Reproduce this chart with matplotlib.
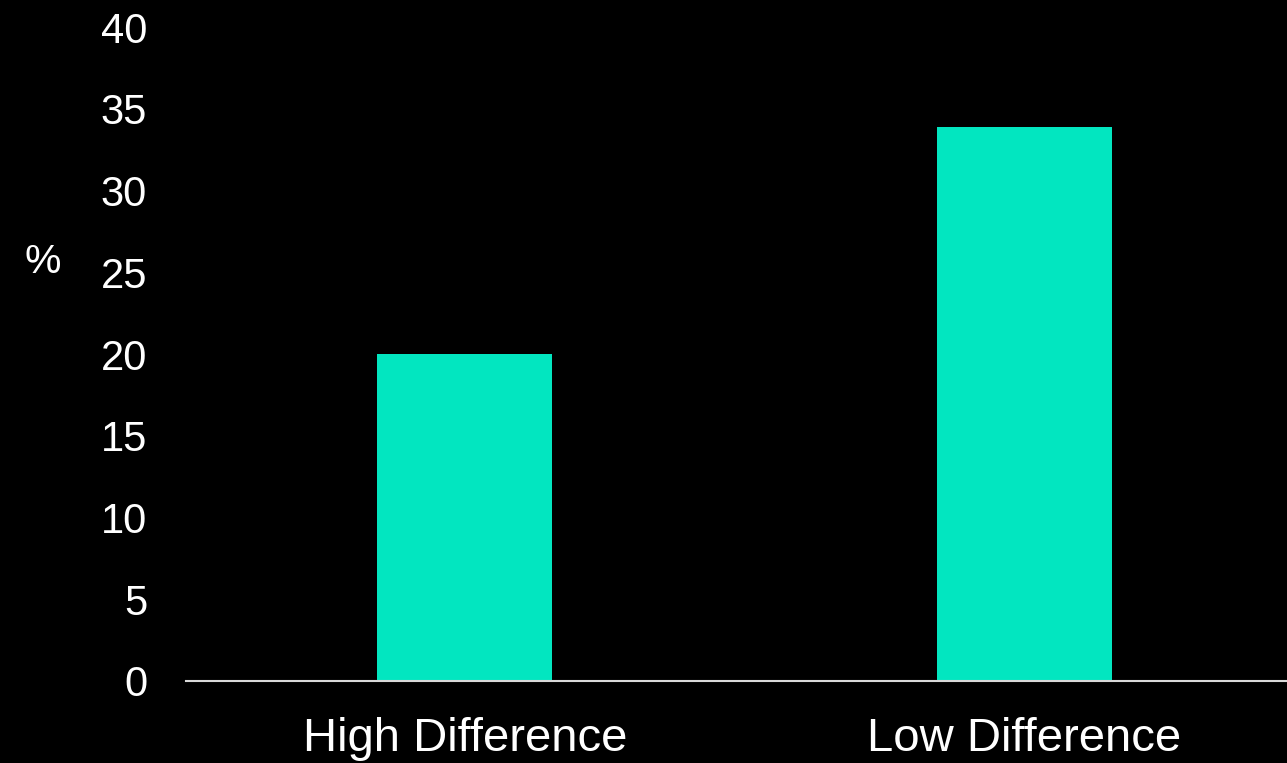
import matplotlib.pyplot as plt

# Share of respondents per group
categories = ["High Difference", "Low Difference"]
values = [20, 33.9]
yticks = [0, 5, 10, 15, 20, 25, 30, 35, 40]

plt.rcParams["font.family"] = ["Liberation Sans", "DejaVu Sans"]

fig = plt.figure(figsize=(12.87, 7.63), dpi=100, facecolor="black")
ax = fig.add_axes([0.1445, 0.1075, 0.8555, 0.857], facecolor="black")

ax.bar(range(len(categories)), values, width=0.313, color="#02E6C0")

ax.set_xlim(-0.4986, 1.47)
ax.set_ylim(0, 40)
ax.set_xticks(range(len(categories)))
ax.set_xticklabels(categories)
ax.set_yticks(yticks)

for side in ["top", "right", "left"]:
    ax.spines[side].set_visible(False)
ax.spines["bottom"].set_color("#d9d9d9")
ax.spines["bottom"].set_linewidth(1.5)

ax.tick_params(axis="y", length=0, pad=28, labelsize=30, colors="white")
ax.tick_params(axis="x", length=0, pad=26, labelsize=34, colors="white")

fig.text(25 / 1287, 1 - 262 / 763, "%", color="white", fontsize=29.5,
         ha="left", va="center")

fig.savefig("out.png", dpi=100, facecolor="black")
